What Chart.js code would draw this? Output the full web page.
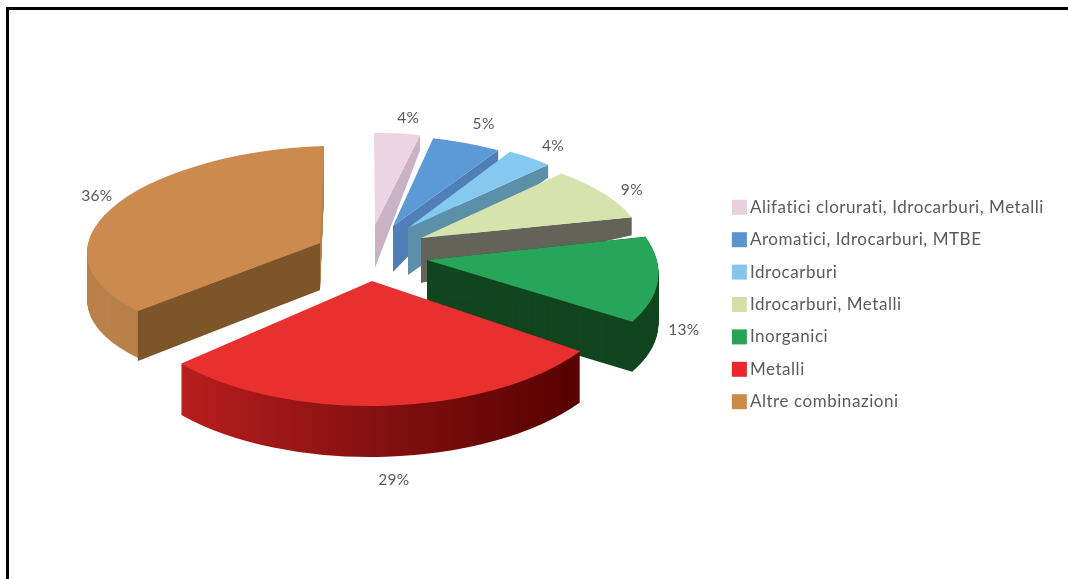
<!DOCTYPE html>
<html><head><meta charset="utf-8">
<style>
html,body{margin:0;padding:0;background:#fff;overflow:hidden}
#wrap{position:relative;width:1068px;height:579px}
#c{position:absolute;left:0;top:0;filter:blur(0.7px)}
#frame{position:absolute;left:6px;top:7px;width:1062px;height:572px;border-left:3px solid #000;border-top:3px solid #000;box-sizing:border-box;pointer-events:none}
</style>
<script src="https://cdn.jsdelivr.net/npm/chart.js@4"></script>
</head><body>
<div id="wrap"><canvas id="c" width="1068" height="579"></canvas><div id="frame"></div></div>
<script>
// ---- data ----
const categories = ["Alifatici clorurati, Idrocarburi, Metalli","Aromatici, Idrocarburi, MTBE","Idrocarburi","Idrocarburi, Metalli","Inorganici","Metalli","Altre combinazioni"];
const percentages = [4,5,4,9,13,29,36];

// ---- colours ----
const topColors  = ["#ecd4e2","#5b9ad6","#86c9f0","#d7e3ad","#27a558","#e8312e","#cc8a4f"];
const legendColors = ["#e6d0dc","#5b93cf","#85c6ec","#d5e0a8","#27a357","#e8262b","#cc8a4a"];
const rimColors  = [null,null,null,null,"#11451f","GRADIENT","#b9814b"];
const cutColors  = ["#c9b2c6","#4f7fb6","#5c90a8","#63635a","#11451f",null,"#7d5528"];

// ---- 3D look: explosion, per-slice projection (a,c,b,d of a canvas transform), wall heights ----
const pieCenter = [375,250];
const explode = [[0,-25],[18,-24],[33,-22],[46,-12],[52,10],[-3,31],[-55,-7]];
const projection = [[185,-3,1,92],[220,2,15,91],[195,-5,3,87],[220,-4,29,90],[229,-3,34,109],[253,-4,6,125],[233,-8,-4,97]];
const rimHeight = [0,0,0,0,50,51,47];
const cutHeight = [[43,15],[46,13],[47,13],[45,18],[42,50],null,[47,50]];
const labelNudge = [[11,-15],[17,-19],[23,-12],[28,-4],[26,49],[8,74],[-14,-13]];
const drawOrder = [0,1,2,3,6,4,5];
const labelSpacing = '0.55px';

function withColor(arc,ctx,color){
  const o = arc.options;
  arc.options = Object.assign(Object.create(o),{backgroundColor:color,borderWidth:0});
  arc.draw(ctx);
  arc.options = o;
}
const pie3d = {
  id:'pie3d',
  beforeLayout(chart){ chart.ctx.letterSpacing = labelSpacing; },
  beforeDraw(chart){ chart.ctx.letterSpacing = labelSpacing; },
  beforeDatasetDraw(chart,args){
    const ctx = chart.ctx, arcs = args.meta.data;
    for(const i of drawOrder){
      const arc = arcs[i], p = projection[i];
      const ox = pieCenter[0]+explode[i][0], oy = pieCenter[1]+explode[i][1];
      const k = 1/arc.outerRadius;
      const place = dy => {
        ctx.setTransform(p[0]*k,p[1]*k,p[2]*k,p[3]*k,ox,oy+dy);
        ctx.translate(-arc.x,-arc.y);
      };
      // outer wall
      ctx.save();
      if(rimHeight[i]){
        let fill = rimColors[i];
        if(fill==="GRADIENT"){
          fill = ctx.createLinearGradient(arc.x-arc.outerRadius,0,arc.x+arc.outerRadius*0.75,0);
          fill.addColorStop(0,"#c82322");fill.addColorStop(0.5,"#8c1212");fill.addColorStop(1,"#5a0202");
        }
        for(let d=rimHeight[i];d>0;d--){place(d);withColor(arc,ctx,fill);}
      }
      ctx.restore();
      // radial cut wall, facing the viewer
      if(cutHeight[i]){
        const a = (i>=4)?arc.startAngle:arc.endAngle;
        const ux=Math.cos(a),uy=Math.sin(a);
        const ex=ox+p[0]*ux+p[2]*uy, ey=oy+p[1]*ux+p[3]*uy;
        ctx.save();
        ctx.fillStyle=cutColors[i];
        ctx.beginPath();
        ctx.moveTo(ox,oy);ctx.lineTo(ex,ey);
        ctx.lineTo(ex,ey+cutHeight[i][1]);ctx.lineTo(ox,oy+cutHeight[i][0]);
        ctx.closePath();ctx.fill();
        ctx.restore();
      }
      // top face
      ctx.save();
      place(0);
      withColor(arc,ctx,topColors[i]);
      ctx.restore();
    }
    return false;
  },
  afterDatasetsDraw(chart){
    const ctx = chart.ctx, arcs = chart.getDatasetMeta(0).data;
    ctx.save();
    ctx.letterSpacing='0.3px';
    ctx.font='15.5px Lato';ctx.fillStyle='#5a5a5a';ctx.textAlign='center';ctx.textBaseline='middle';
    arcs.forEach((arc,i)=>{
      const p=projection[i], m=(arc.startAngle+arc.endAngle)/2, ux=Math.cos(m), uy=Math.sin(m);
      const x=pieCenter[0]+explode[i][0]+p[0]*ux+p[2]*uy+labelNudge[i][0];
      const y=pieCenter[1]+explode[i][1]+p[1]*ux+p[3]*uy+labelNudge[i][1];
      ctx.fillText(percentages[i]+'%',x,y);
    });
    ctx.restore();
  }
};

new Chart(document.getElementById('c'),{
  type:'pie',
  data:{labels:categories,datasets:[{data:percentages,backgroundColor:topColors,borderWidth:0}]},
  options:{
    responsive:false,animation:false,
    layout:{padding:{top:30,right:14,bottom:0,left:0}},
    plugins:{
      tooltip:{enabled:false},
      legend:{
        position:'right',align:'center',
        labels:{
          color:'#5a5a5a',
          font:{family:'Lato',size:17,lineHeight:1},
          boxWidth:4,boxHeight:4,padding:15.4,
          generateLabels(){
            return categories.map((t,i)=>({text:t,fontColor:'#5a5a5a',fillStyle:legendColors[i],strokeStyle:legendColors[i],lineWidth:11,hidden:false,index:i}));
          }
        }
      }
    }
  },
  plugins:[pie3d]
});
</script>
</body></html>
